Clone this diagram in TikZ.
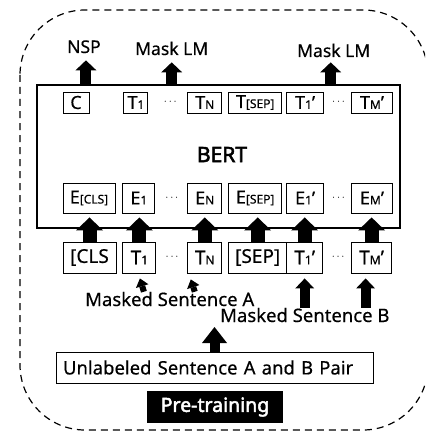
\documentclass[tikz,border=0pt]{standalone}
\usepackage{fontspec}
\setmainfont{Noto Sans}[AutoFakeBold=2.5, UprightFeatures={FakeBold=0.4}]
\usetikzlibrary{positioning, calc, arrows.meta}

\newcommand{\sml}[1]{{\fontsize{12}{12}\selectfont #1}}

\begin{document}
\begin{tikzpicture}[x=1pt, y=-1pt, node distance=6pt,
  tbox/.style={draw, line width=.9pt, inner sep=0pt, minimum height=21pt, font=\fontsize{18}{18}\selectfont},
  ebox/.style={tbox, minimum height=30pt},
  ibox/.style={tbox, minimum height=31pt, font=\fontsize{19}{19}\selectfont},
  lbl/.style={inner sep=0pt, anchor=base west, font=\fontsize{17.5}{17.5}\selectfont},
  sent/.style={lbl, font=\fontsize{18.5}{18.5}\selectfont},
  dotsnode/.style={inner sep=0pt, font=\fontsize{11}{11}\selectfont},
  fatarrow/.style n args={3}{line width=#1, -{Triangle[width=#2, length=#3, line width=0pt]}}]
			\clip (0,0) rectangle (425,433);
			\draw[dash pattern=on 7pt off 5pt, line width=1.2pt, rounded corners=65pt] (20,10) rectangle (428,430);

			\node[draw, line width=1.3pt, inner sep=0pt, minimum width=363pt, minimum height=143pt] (bert) at (218.5,156.5) {};
			\node[inner sep=0pt, anchor=base, font=\bfseries\fontsize{21}{21}\selectfont] (bertname) at (222,162) {BERT};

			\node[tbox, minimum width=26pt] (tc) at (76,102.5) {C};
			\node[tbox, minimum width=24pt, right=34pt of tc] (t1) {T\sml{1}};
			\node[tbox, minimum width=34pt, right=39pt of t1] (tN) {T\sml{N}};
			\node[tbox, minimum width=53pt, right=6pt of tN] (tsep) {T\sml{[SEP]}};
			\node[tbox, minimum width=37pt, right=4pt of tsep] (t1p) {T\sml{1}'};
			\node[tbox, minimum width=41pt, right=27pt of t1p] (tMp) {T\sml{M}'};
			\node[dotsnode] (tdotsA) at ($(t1)!.5!(tN)$) {$\cdots$};
			\node[dotsnode] (tdotsB) at ($(t1p)!.5!(tMp)$) {$\cdots$};

			\node[ebox, minimum width=52pt] (ecls) at (89,198) {E\sml{[CLS]}};
			\node[ebox, minimum width=32pt, right=7pt of ecls] (e1) {E\sml{1}};
			\node[ebox, minimum width=34pt, right=32pt of e1] (eN) {E\sml{N}};
			\node[ebox, minimum width=53pt, right=6pt of eN] (esep) {E\sml{[SEP]}};
			\node[ebox, minimum width=37pt, right=4pt of esep] (e1p) {E\sml{1}'};
			\node[ebox, minimum width=41pt, right=27pt of e1p] (eMp) {E\sml{M}'};
			\node[dotsnode] (edotsA) at ($(e1)!.5!(eN)$) {$\cdots$};
			\node[dotsnode] (edotsB) at ($(e1p)!.5!(eMp)$) {$\cdots$};

			\node[ibox, minimum width=53pt] (icls) at (89.5,257.5) {[CLS};
			\node[ibox, minimum width=33pt, right=6pt of icls] (i1) {T\sml{1}};
			\node[ibox, minimum width=34pt, right=31pt of i1] (iN) {T\sml{N}};
			\node[ibox, minimum width=58pt, right=6pt of iN] (isep) {[SEP]};
			\node[ibox, minimum width=36pt, right=-.9pt of isep] (i1p) {T\sml{1}'};
			\node[ibox, minimum width=40pt, right=28pt of i1p] (iMp) {T\sml{M}'};
			\node[dotsnode] (idotsA) at ($(i1)!.5!(iN)$) {$\cdots$};
			\node[dotsnode] (idotsB) at ($(i1p)!.5!(iMp)$) {$\cdots$};

			\node[lbl] (nsp) at (67,53) {NSP};
			\node[lbl] (mlmA) at (135,55) {Mask LM};
			\node[lbl] (mlmB) at (297,57) {Mask LM};
			\node[sent] (sentA) at (85,306) {Masked Sentence A};
			\node[sent] (sentB) at (220,322) {Masked Sentence B};
			\node[draw, line width=.9pt, inner xsep=7pt, inner ysep=0pt, text width=303pt, minimum height=31pt, align=left, font=\fontsize{18.5}{18.5}\selectfont] (pair) at (214.5,367.5) {Unlabeled Sentence A and B Pair};
			\node[fill=black, text=white, inner sep=0pt, minimum width=136pt, minimum height=32pt, font=\bfseries\fontsize{19.5}{19.5}\selectfont] (pretrain) at (215,407) {Pre-training};
			\coordinate (pairin) at (214.5,327);

			\draw[fatarrow={11pt}{21pt}{10pt}, shorten >=7pt] ([xshift=2pt]nsp.south |- bert.north) -- ([xshift=2pt]nsp.south);
			\draw[fatarrow={11pt}{21pt}{10pt}, shorten >=7pt] (mlmA.south |- bert.north) -- (mlmA.south);
			\draw[fatarrow={11pt}{21pt}{10pt}, shorten >=5pt] ([xshift=-3pt]mlmB.south |- bert.north) -- ([xshift=-3pt]mlmB.south);

			\foreach \a/\b in {icls/ecls, i1/e1, iN/eN, isep/esep, i1p/e1p, iMp/eMp}
				\draw[fatarrow={14pt}{27pt}{13pt}, shorten >=4pt] (\a.north) -- (\a.north |- \b.south);

			\draw[fatarrow={6pt}{13pt}{8pt}] ([xshift=4.5pt]sentA.north -| i1.south) -- ([xshift=.5pt, yshift=-5pt]i1.south);
			\draw[fatarrow={6pt}{13pt}{8pt}] ([xshift=-10pt]sentA.north -| iN.south) -- ([xshift=-14pt, yshift=-6pt]iN.south);
			\draw[fatarrow={10pt}{19pt}{10pt}] (sentB.north -| i1p.south) -- ([yshift=-5pt]i1p.south);
			\draw[fatarrow={10pt}{19pt}{10pt}] ([xshift=-6pt]sentB.north -| iMp.south) -- ([xshift=-6pt, yshift=-5pt]iMp.south);
			\draw[fatarrow={10pt}{25pt}{16pt}] (pair.north) -- (pairin);
		\end{tikzpicture}
\end{document}
